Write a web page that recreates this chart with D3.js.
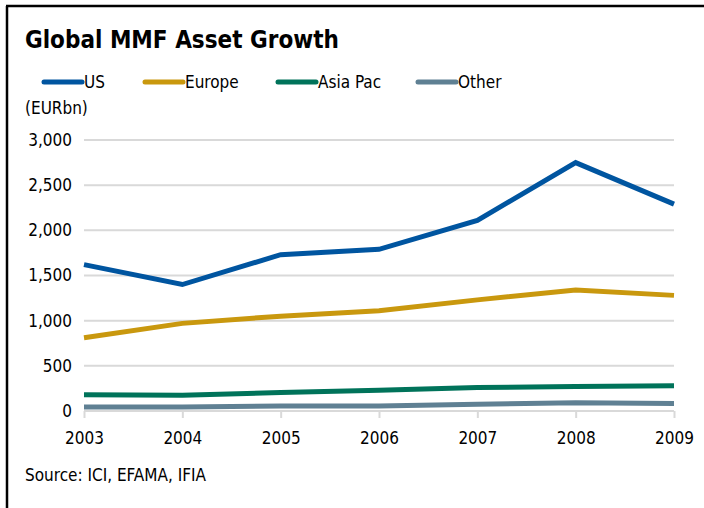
<!DOCTYPE html>
<html>
<head>
<meta charset="utf-8">
<script src="https://cdn.jsdelivr.net/npm/d3@7"></script>
<style>
  body { margin: 0; background: #fff; }
  svg { display: block; font-family: "DejaVu Sans Condensed", "DejaVu Sans", sans-serif; }
</style>
</head>
<body>
<svg id="chart" width="704" height="508"></svg>
<script>
// Data (EUR bn)
const years = [2003, 2004, 2005, 2006, 2007, 2008, 2009];
const usValues = [1620, 1400, 1730, 1790, 2110, 2750, 2290];
const europeValues = [810, 970, 1050, 1110, 1230, 1340, 1280];
const asiaPacValues = [180, 175, 205, 230, 260, 270, 280];
const otherValues = [45, 45, 55, 55, 75, 92, 82];
const yTicks = [0, 500, 1000, 1500, 2000, 2500, 3000];

const seriesNames = ['US', 'Europe', 'Asia Pac', 'Other'];
const seriesColors = ['#0055a0', '#c9980e', '#00735a', '#5f8093'];
const seriesValues = [usValues, europeValues, asiaPacValues, otherValues];

const svg = d3.select('#chart');
const margin = { top: 140, left: 84, right: 30, bottom: 97 };
const width = 704 - margin.left - margin.right;
const height = 508 - margin.top - margin.bottom;

// Frame lines (left and top only)
svg.append('line').attr('x1', 7).attr('x2', 7).attr('y1', 6).attr('y2', 508)
  .attr('stroke', '#000').attr('stroke-width', 2.5);
svg.append('line').attr('x1', 6).attr('x2', 704).attr('y1', 6).attr('y2', 6)
  .attr('stroke', '#000').attr('stroke-width', 2.5);

svg.append('text').attr('x', 25).attr('y', 48)
  .attr('font-size', 24).attr('font-weight', 'bold').attr('fill', '#000')
  .text('Global MMF Asset Growth');

// Legend
const legendX = [44, 145, 278, 418];
const legend = svg.append('g');
seriesNames.forEach((name, i) => {
  legend.append('line')
    .attr('x1', legendX[i]).attr('x2', legendX[i] + 38)
    .attr('y1', 82).attr('y2', 82)
    .attr('stroke', seriesColors[i]).attr('stroke-width', 5)
    .attr('stroke-linecap', 'round');
  legend.append('text')
    .attr('x', legendX[i] + 40).attr('y', 88)
    .attr('font-size', 17).attr('fill', '#000')
    .text(name);
});

svg.append('text').attr('x', 25).attr('y', 114)
  .attr('font-size', 17).attr('fill', '#000').text('(EURbn)');

const chart = svg.append('g')
  .attr('transform', `translate(${margin.left},${margin.top})`);

const xScale = d3.scaleLinear().domain([2003, 2009]).range([0, width]);
const yScale = d3.scaleLinear().domain([0, 3000]).range([height, 0]);

// Gridlines
chart.append('g').selectAll('line')
  .data(yTicks.filter(d => d > 0))
  .join('line')
  .attr('x1', 0).attr('x2', width)
  .attr('y1', d => yScale(d)).attr('y2', d => yScale(d))
  .attr('stroke', '#d9d9d9').attr('stroke-width', 2);

// Y axis labels
const yAxis = d3.axisLeft(yScale).tickValues(yTicks).tickSize(0).tickPadding(12)
  .tickFormat(d3.format(','));
chart.append('g').call(yAxis)
  .call(g => g.select('.domain').remove())
  .selectAll('text')
  .attr('font-size', 17).attr('fill', '#000')
  .attr('font-family', '"DejaVu Sans Condensed", "DejaVu Sans", sans-serif');

// X axis
const xAxis = d3.axisBottom(xScale).tickValues(years).tickSize(7).tickPadding(14)
  .tickFormat(d3.format('d'));
chart.append('g').attr('transform', `translate(0,${height})`).call(xAxis)
  .call(g => g.select('.domain').attr('stroke', '#d9d9d9').attr('stroke-width', 2)
    .attr('d', `M0,0H${width}`))
  .call(g => g.selectAll('.tick line').attr('stroke', '#d9d9d9').attr('stroke-width', 2))
  .selectAll('text')
  .attr('font-size', 17).attr('fill', '#000')
  .attr('font-family', '"DejaVu Sans Condensed", "DejaVu Sans", sans-serif');

// Lines, drawn bottom series first so US sits on top
const line = d3.line()
  .x((d, i) => xScale(years[i]))
  .y(d => yScale(d));

for (let i = seriesValues.length - 1; i >= 0; i--) {
  chart.append('path')
    .datum(seriesValues[i])
    .attr('d', line)
    .attr('fill', 'none')
    .attr('stroke', seriesColors[i])
    .attr('stroke-width', 5)
    .attr('stroke-linejoin', 'miter');
}

svg.append('text').attr('x', 25).attr('y', 481)
  .attr('font-size', 17).attr('fill', '#000')
  .text('Source: ICI, EFAMA, IFIA');
</script>
</body>
</html>
